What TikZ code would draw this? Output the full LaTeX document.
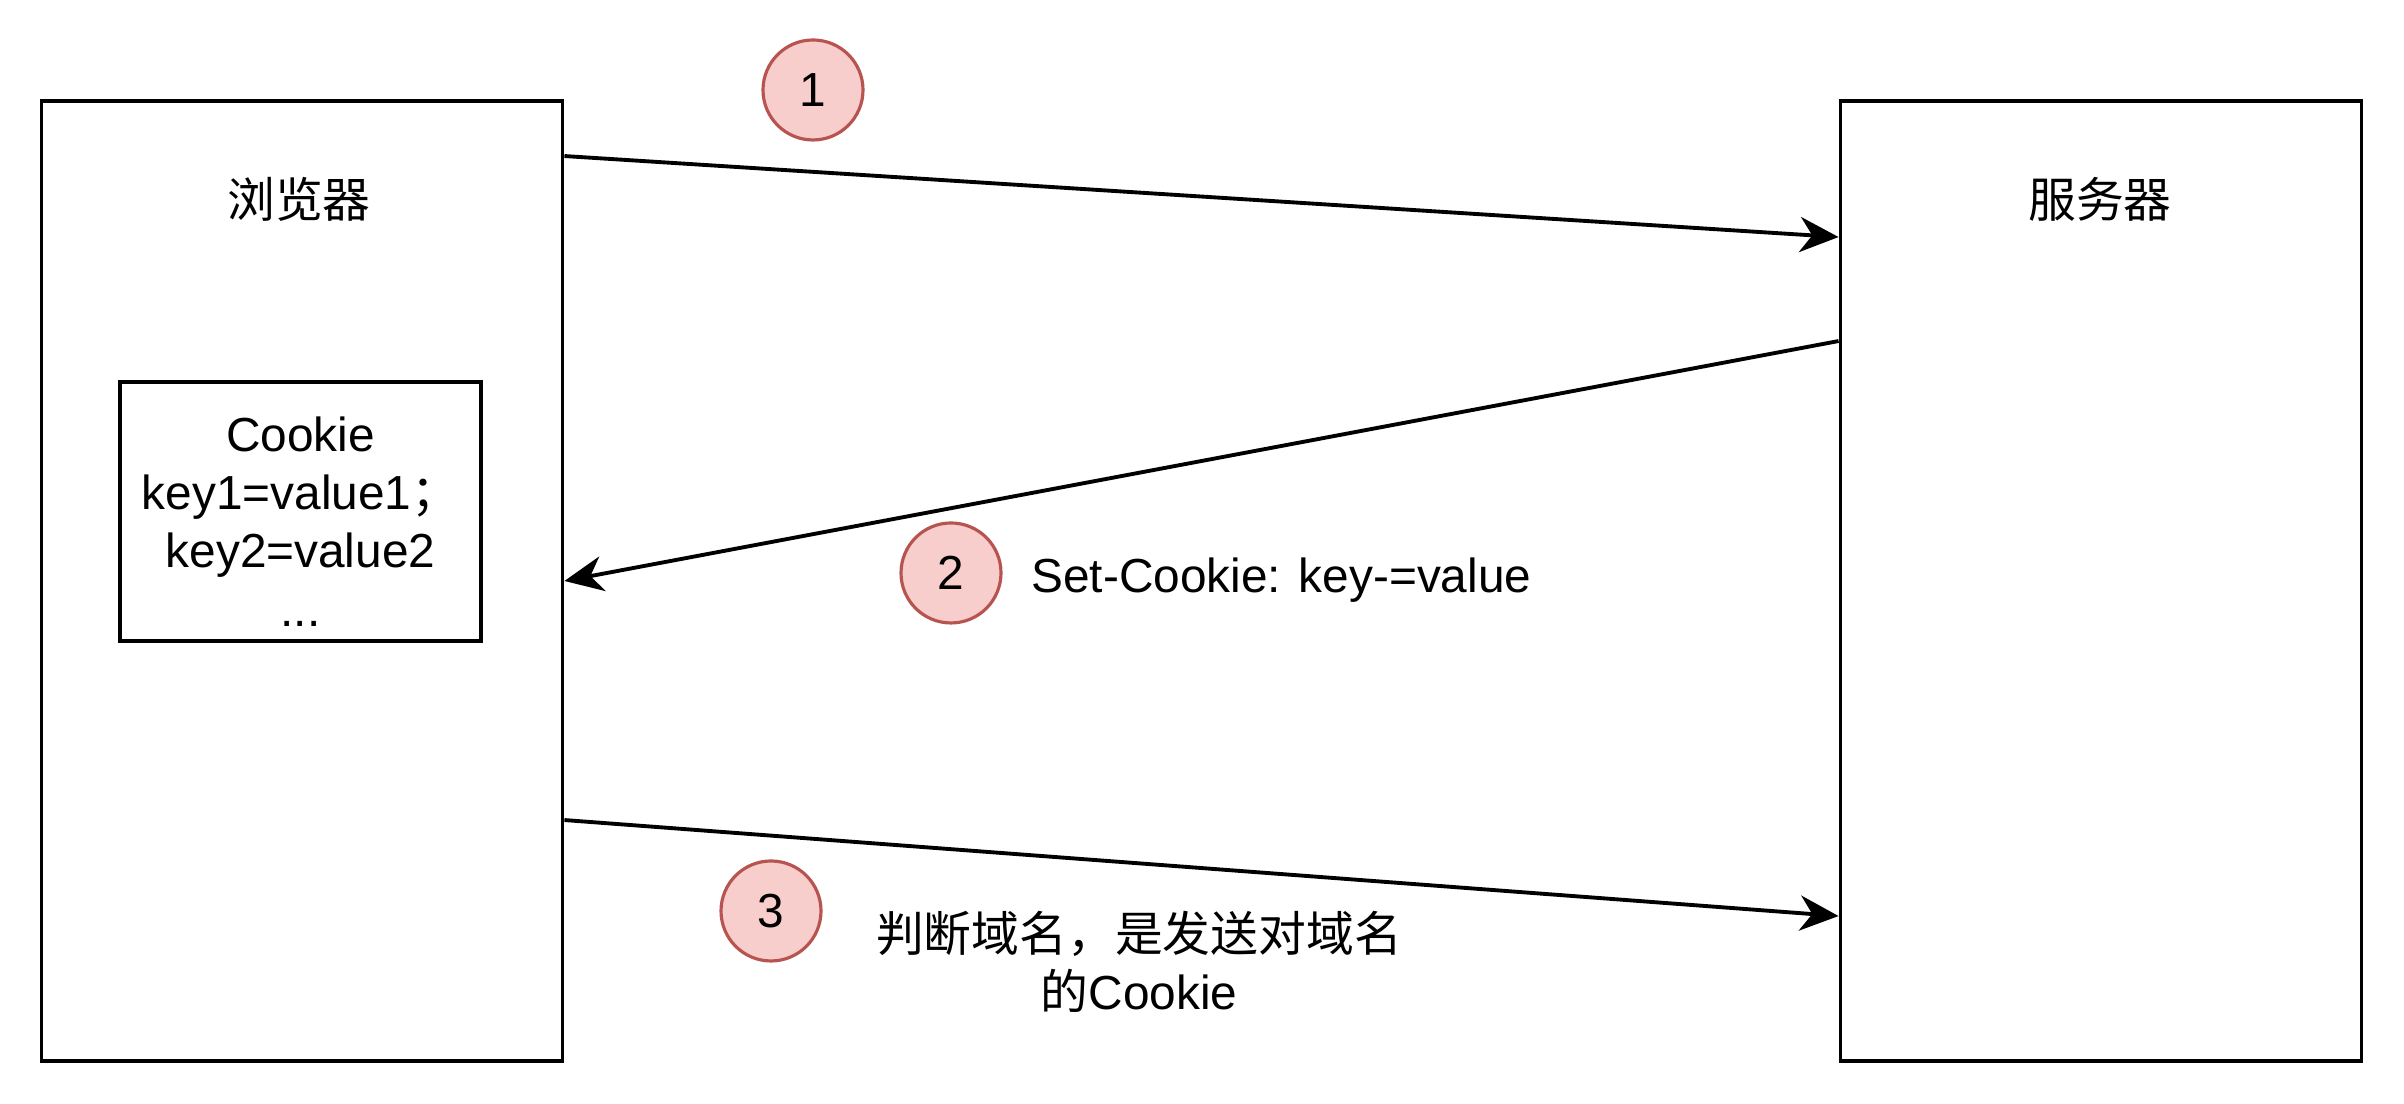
\documentclass[tikz,border=0pt]{standalone}
\usepackage{fontspec}
\setmainfont{Liberation Sans}
\newfontfamily\cjk{Noto Sans CJK SC}
\usepackage{tikz}
\usetikzlibrary{positioning,arrows.meta,calc}
\definecolor{stepline}{HTML}{B85450}
\definecolor{stepfill}{HTML}{F8CECC}

\begin{document}
\begin{tikzpicture}[
        hostbox/.style={rectangle, draw=black, line width=1.1pt,
        minimum width=5.21cm, minimum height=9.6cm},
        storebox/.style={rectangle, draw=black, line width=1.1pt,
        minimum width=3.61cm, minimum height=2.59cm},
        storetext/.style={align=center, inner sep=0pt,
        font=\fontsize{13.6}{16.6}\selectfont},
        hostlabel/.style={font=\cjk\fontsize{13.6}{16.3}\selectfont},
        stepnode/.style={circle, draw=stepline, fill=stepfill, line
        width=0.9pt, minimum size=1cm, inner sep=0pt,
        font=\fontsize{13.6}{16.3}\selectfont},
        msgtext/.style={font=\fontsize{13.6}{16.3}\selectfont, align=center},
        msglink/.style={-{Stealth[length=11pt, width=10pt, inset=3.5pt]},
        line width=1.1pt},
      ]
      \useasboundingbox (0,0) rectangle (24.04,11.04);

      % Browser (left) with its cookie store
      \node[hostbox] (browser) at (3.02, 5.23) {};
      \node[hostlabel] (browsername) at ($(browser.north)+(-0.03,-1.0)$)
      {浏览器};
      \node[storebox] (cookies) at (3.005, 5.925) {};
      \node[storetext] (cookielist) at ($(cookies.center)+(0,-0.1)$)
      {Cookie\\ key1=value1{\cjk ；}\\ key2=value2\\ ...};

      % Server (right)
      \node[hostbox] (server) at (21.01, 5.23) {};
      \node[hostlabel] (servername) at ($(server.north)+(-0.01,-1.0)$)
      {服务器};

      % Step markers
      \node[stepnode] (s1) at (8.13, 10.14) {1};
      \node[stepnode] (s2) at (9.51, 5.31) {2};
      \node[stepnode] (s3) at (7.71, 1.93) {3};

      % Messages
      \draw[msglink] ($(browser.north east)+(0,-0.57)$) --
      ($(server.north west)+(0,-1.38)$);
      \draw[msglink] ($(server.north west)+(0,-2.42)$) -- (browser.east);
      \draw[msglink] ($(browser.north east)+(0,-7.21)$) --
      ($(server.north west)+(0,-8.17)$);

      % Message labels
      \node[msgtext, anchor=west] (setcookie) at (10.19, 5.24)
      {Set-Cookie: key-=value};
      \node[msgtext] (sendcookie) at (11.39, 1.42)
      {{\cjk 判断域名，是发送对域名}\\ {\cjk 的}Cookie};
    \end{tikzpicture}
\end{document}
